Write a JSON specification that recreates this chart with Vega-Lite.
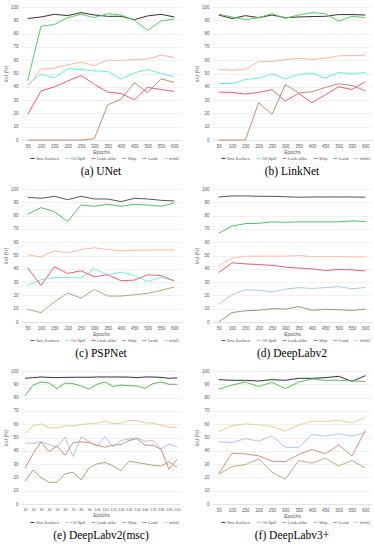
{
  "$schema": "https://vega.github.io/schema/vega-lite/v6.json",
  "padding": {"left": 3, "top": 4, "right": 2, "bottom": 0},
  "background": "white",
  "config": {
    "view": {"stroke": null},
    "font": "Liberation Sans",
    "axis": {"labelFontSize": 4.5, "titleFontSize": 5, "titleFontWeight": "normal", "labelColor": "#595959", "titleColor": "#595959", "ticks": false, "labelPadding": 3, "titlePadding": 2},
    "axisY": {"domain": false, "grid": true, "gridColor": "#e3e3e3", "gridWidth": 0.5},
    "axisX": {"grid": false, "domainColor": "#d9d9d9", "domainWidth": 0.5, "labelAngle": 0},
    "legend": {"orient": "none", "legendX": 9, "legendY": 149, "direction": "horizontal", "gridAlign": "none", "title": null, "labelFontSize": 4.2, "labelColor": "#595959", "symbolType": "stroke", "symbolSize": 16, "symbolStrokeWidth": 1, "columnPadding": 3, "labelOffset": 1, "padding": 0},
    "title": {"font": "Liberation Serif", "fontSize": 11.5, "fontWeight": "normal", "color": "#000000", "orient": "bottom", "offset": 5},
    "line": {"strokeWidth": 1}
  },
  "datasets": {
    "a": [
      {"e":50,"s":"Sea Surface","v":91.3},{"e":100,"s":"Sea Surface","v":92.5},{"e":150,"s":"Sea Surface","v":94.5},{"e":200,"s":"Sea Surface","v":93.5},{"e":250,"s":"Sea Surface","v":95.8},{"e":300,"s":"Sea Surface","v":94},{"e":350,"s":"Sea Surface","v":93},{"e":400,"s":"Sea Surface","v":93},{"e":450,"s":"Sea Surface","v":90.5},{"e":500,"s":"Sea Surface","v":93.3},{"e":550,"s":"Sea Surface","v":94.5},{"e":600,"s":"Sea Surface","v":92.5},
      {"e":50,"s":"Oil Spill","v":42},{"e":100,"s":"Oil Spill","v":49.3},{"e":150,"s":"Oil Spill","v":46.8},{"e":200,"s":"Oil Spill","v":53.5},{"e":250,"s":"Oil Spill","v":53},{"e":300,"s":"Oil Spill","v":52},{"e":350,"s":"Oil Spill","v":51.5},{"e":400,"s":"Oil Spill","v":45.8},{"e":450,"s":"Oil Spill","v":50.5},{"e":500,"s":"Oil Spill","v":53},{"e":550,"s":"Oil Spill","v":50},{"e":600,"s":"Oil Spill","v":47.5},
      {"e":50,"s":"Look-alike","v":19.3},{"e":100,"s":"Look-alike","v":36.8},{"e":150,"s":"Look-alike","v":40},{"e":200,"s":"Look-alike","v":44.3},{"e":250,"s":"Look-alike","v":48.5},{"e":300,"s":"Look-alike","v":41.8},{"e":350,"s":"Look-alike","v":36},{"e":400,"s":"Look-alike","v":35},{"e":450,"s":"Look-alike","v":30.3},{"e":500,"s":"Look-alike","v":39.5},{"e":550,"s":"Look-alike","v":38},{"e":600,"s":"Look-alike","v":36.5},
      {"e":50,"s":"Ship","v":0},{"e":100,"s":"Ship","v":0},{"e":150,"s":"Ship","v":0},{"e":200,"s":"Ship","v":0},{"e":250,"s":"Ship","v":0},{"e":300,"s":"Ship","v":1},{"e":350,"s":"Ship","v":26.3},{"e":400,"s":"Ship","v":30.8},{"e":450,"s":"Ship","v":43},{"e":500,"s":"Ship","v":35.8},{"e":550,"s":"Ship","v":46},{"e":600,"s":"Ship","v":43.3},
      {"e":50,"s":"Land","v":44.5},{"e":100,"s":"Land","v":85.5},{"e":150,"s":"Land","v":86.8},{"e":200,"s":"Land","v":92},{"e":250,"s":"Land","v":94.5},{"e":300,"s":"Land","v":92},{"e":350,"s":"Land","v":95},{"e":400,"s":"Land","v":94},{"e":450,"s":"Land","v":90},{"e":500,"s":"Land","v":82.5},{"e":550,"s":"Land","v":89.5},{"e":600,"s":"Land","v":91},
      {"e":50,"s":"mIoU","v":40},{"e":100,"s":"mIoU","v":53},{"e":150,"s":"mIoU","v":54},{"e":200,"s":"mIoU","v":56.5},{"e":250,"s":"mIoU","v":58.5},{"e":300,"s":"mIoU","v":56},{"e":350,"s":"mIoU","v":60},{"e":400,"s":"mIoU","v":59.8},{"e":450,"s":"mIoU","v":60.5},{"e":500,"s":"mIoU","v":61},{"e":550,"s":"mIoU","v":63.8},{"e":600,"s":"mIoU","v":62}
    ],
    "b": [
      {"e":50,"s":"Sea Surface","v":94},{"e":100,"s":"Sea Surface","v":91.3},{"e":150,"s":"Sea Surface","v":93.5},{"e":200,"s":"Sea Surface","v":92},{"e":250,"s":"Sea Surface","v":94},{"e":300,"s":"Sea Surface","v":92},{"e":350,"s":"Sea Surface","v":92.5},{"e":400,"s":"Sea Surface","v":92.8},{"e":450,"s":"Sea Surface","v":93},{"e":500,"s":"Sea Surface","v":94.3},{"e":550,"s":"Sea Surface","v":94.3},{"e":600,"s":"Sea Surface","v":94},
      {"e":50,"s":"Oil Spill","v":42.5},{"e":100,"s":"Oil Spill","v":42.5},{"e":150,"s":"Oil Spill","v":45.5},{"e":200,"s":"Oil Spill","v":46.5},{"e":250,"s":"Oil Spill","v":49.8},{"e":300,"s":"Oil Spill","v":46},{"e":350,"s":"Oil Spill","v":49.3},{"e":400,"s":"Oil Spill","v":50.3},{"e":450,"s":"Oil Spill","v":46.5},{"e":500,"s":"Oil Spill","v":50.8},{"e":550,"s":"Oil Spill","v":49.8},{"e":600,"s":"Oil Spill","v":50.8},
      {"e":50,"s":"Look-alike","v":36},{"e":100,"s":"Look-alike","v":35.8},{"e":150,"s":"Look-alike","v":34.5},{"e":200,"s":"Look-alike","v":35.8},{"e":250,"s":"Look-alike","v":37.8},{"e":300,"s":"Look-alike","v":29.3},{"e":350,"s":"Look-alike","v":35},{"e":400,"s":"Look-alike","v":28},{"e":450,"s":"Look-alike","v":34},{"e":500,"s":"Look-alike","v":40},{"e":550,"s":"Look-alike","v":38},{"e":600,"s":"Look-alike","v":43.8},
      {"e":50,"s":"Ship","v":0},{"e":100,"s":"Ship","v":0},{"e":150,"s":"Ship","v":0},{"e":200,"s":"Ship","v":28},{"e":250,"s":"Ship","v":19.3},{"e":300,"s":"Ship","v":41.8},{"e":350,"s":"Ship","v":35.3},{"e":400,"s":"Ship","v":36.3},{"e":450,"s":"Ship","v":39.5},{"e":500,"s":"Ship","v":42.3},{"e":550,"s":"Ship","v":41},{"e":600,"s":"Ship","v":37},
      {"e":50,"s":"Land","v":94.5},{"e":100,"s":"Land","v":92.5},{"e":150,"s":"Land","v":90.5},{"e":200,"s":"Land","v":92},{"e":250,"s":"Land","v":95},{"e":300,"s":"Land","v":91.5},{"e":350,"s":"Land","v":94},{"e":400,"s":"Land","v":95.8},{"e":450,"s":"Land","v":95},{"e":500,"s":"Land","v":89.3},{"e":550,"s":"Land","v":93},{"e":600,"s":"Land","v":92},
      {"e":50,"s":"mIoU","v":53},{"e":100,"s":"mIoU","v":52.5},{"e":150,"s":"mIoU","v":53},{"e":200,"s":"mIoU","v":59},{"e":250,"s":"mIoU","v":59},{"e":300,"s":"mIoU","v":60.5},{"e":350,"s":"mIoU","v":61.3},{"e":400,"s":"mIoU","v":60.5},{"e":450,"s":"mIoU","v":61.5},{"e":500,"s":"mIoU","v":63.3},{"e":550,"s":"mIoU","v":63.5},{"e":600,"s":"mIoU","v":63.8}
    ],
    "c": [
      {"e":50,"s":"Sea Surface","v":93.8},{"e":100,"s":"Sea Surface","v":93},{"e":150,"s":"Sea Surface","v":94.5},{"e":200,"s":"Sea Surface","v":92},{"e":250,"s":"Sea Surface","v":94.5},{"e":300,"s":"Sea Surface","v":92.5},{"e":350,"s":"Sea Surface","v":92.5},{"e":400,"s":"Sea Surface","v":90.5},{"e":450,"s":"Sea Surface","v":93},{"e":500,"s":"Sea Surface","v":92.5},{"e":550,"s":"Sea Surface","v":91.5},{"e":600,"s":"Sea Surface","v":91},
      {"e":50,"s":"Oil Spill","v":27.5},{"e":100,"s":"Oil Spill","v":31.8},{"e":150,"s":"Oil Spill","v":33.5},{"e":200,"s":"Oil Spill","v":33.5},{"e":250,"s":"Oil Spill","v":33},{"e":300,"s":"Oil Spill","v":40},{"e":350,"s":"Oil Spill","v":35.5},{"e":400,"s":"Oil Spill","v":37.5},{"e":450,"s":"Oil Spill","v":35},{"e":500,"s":"Oil Spill","v":30.5},{"e":550,"s":"Oil Spill","v":33.5},{"e":600,"s":"Oil Spill","v":31},
      {"e":50,"s":"Look-alike","v":40.8},{"e":100,"s":"Look-alike","v":27.5},{"e":150,"s":"Look-alike","v":41.5},{"e":200,"s":"Look-alike","v":36.5},{"e":250,"s":"Look-alike","v":38.5},{"e":300,"s":"Look-alike","v":34},{"e":350,"s":"Look-alike","v":35.5},{"e":400,"s":"Look-alike","v":31},{"e":450,"s":"Look-alike","v":31.5},{"e":500,"s":"Look-alike","v":35.5},{"e":550,"s":"Look-alike","v":35},{"e":600,"s":"Look-alike","v":31},
      {"e":50,"s":"Ship","v":9.5},{"e":100,"s":"Ship","v":7},{"e":150,"s":"Ship","v":15},{"e":200,"s":"Ship","v":21.8},{"e":250,"s":"Ship","v":18},{"e":300,"s":"Ship","v":24.5},{"e":350,"s":"Ship","v":19.5},{"e":400,"s":"Ship","v":19.5},{"e":450,"s":"Ship","v":20.5},{"e":500,"s":"Ship","v":21.5},{"e":550,"s":"Ship","v":23.8},{"e":600,"s":"Ship","v":26.3},
      {"e":50,"s":"Land","v":81},{"e":100,"s":"Land","v":86},{"e":150,"s":"Land","v":83},{"e":200,"s":"Land","v":75.5},{"e":250,"s":"Land","v":88},{"e":300,"s":"Land","v":87},{"e":350,"s":"Land","v":88.5},{"e":400,"s":"Land","v":87},{"e":450,"s":"Land","v":88.5},{"e":500,"s":"Land","v":88},{"e":550,"s":"Land","v":87},{"e":600,"s":"Land","v":89.5},
      {"e":50,"s":"mIoU","v":50.5},{"e":100,"s":"mIoU","v":49},{"e":150,"s":"mIoU","v":53.5},{"e":200,"s":"mIoU","v":52},{"e":250,"s":"mIoU","v":54.5},{"e":300,"s":"mIoU","v":55.8},{"e":350,"s":"mIoU","v":54.5},{"e":400,"s":"mIoU","v":53.5},{"e":450,"s":"mIoU","v":54},{"e":500,"s":"mIoU","v":54},{"e":550,"s":"mIoU","v":54.3},{"e":600,"s":"mIoU","v":54}
    ],
    "d": [
      {"e":50,"s":"Sea Surface","v":94},{"e":100,"s":"Sea Surface","v":94.8},{"e":150,"s":"Sea Surface","v":94.8},{"e":200,"s":"Sea Surface","v":94.5},{"e":250,"s":"Sea Surface","v":94.5},{"e":300,"s":"Sea Surface","v":94.2},{"e":350,"s":"Sea Surface","v":93.8},{"e":400,"s":"Sea Surface","v":94},{"e":450,"s":"Sea Surface","v":94},{"e":500,"s":"Sea Surface","v":94},{"e":550,"s":"Sea Surface","v":94},{"e":600,"s":"Sea Surface","v":93.8},
      {"e":50,"s":"Oil Spill","v":13.2},{"e":100,"s":"Oil Spill","v":20.5},{"e":150,"s":"Oil Spill","v":24.2},{"e":200,"s":"Oil Spill","v":23.9},{"e":250,"s":"Oil Spill","v":22.6},{"e":300,"s":"Oil Spill","v":24.7},{"e":350,"s":"Oil Spill","v":25.8},{"e":400,"s":"Oil Spill","v":25.3},{"e":450,"s":"Oil Spill","v":25.8},{"e":500,"s":"Oil Spill","v":26.6},{"e":550,"s":"Oil Spill","v":25},{"e":600,"s":"Oil Spill","v":26},
      {"e":50,"s":"Look-alike","v":37.1},{"e":100,"s":"Look-alike","v":44.5},{"e":150,"s":"Look-alike","v":43.7},{"e":200,"s":"Look-alike","v":43.2},{"e":250,"s":"Look-alike","v":42.6},{"e":300,"s":"Look-alike","v":41.3},{"e":350,"s":"Look-alike","v":40.5},{"e":400,"s":"Look-alike","v":40},{"e":450,"s":"Look-alike","v":38.7},{"e":500,"s":"Look-alike","v":39.5},{"e":550,"s":"Look-alike","v":39.2},{"e":600,"s":"Look-alike","v":38.4},
      {"e":50,"s":"Ship","v":0},{"e":100,"s":"Ship","v":7.1},{"e":150,"s":"Ship","v":8.4},{"e":200,"s":"Ship","v":8.9},{"e":250,"s":"Ship","v":10},{"e":300,"s":"Ship","v":9.7},{"e":350,"s":"Ship","v":11.6},{"e":400,"s":"Ship","v":8.9},{"e":450,"s":"Ship","v":9.5},{"e":500,"s":"Ship","v":9.2},{"e":550,"s":"Ship","v":8.7},{"e":600,"s":"Ship","v":9.7},
      {"e":50,"s":"Land","v":66.8},{"e":100,"s":"Land","v":72.1},{"e":150,"s":"Land","v":74},{"e":200,"s":"Land","v":74.2},{"e":250,"s":"Land","v":75.3},{"e":300,"s":"Land","v":75},{"e":350,"s":"Land","v":75.3},{"e":400,"s":"Land","v":75.3},{"e":450,"s":"Land","v":75.3},{"e":500,"s":"Land","v":75.3},{"e":550,"s":"Land","v":76},{"e":600,"s":"Land","v":75.5},
      {"e":50,"s":"mIoU","v":42.6},{"e":100,"s":"mIoU","v":47.9},{"e":150,"s":"mIoU","v":49.5},{"e":200,"s":"mIoU","v":49.5},{"e":250,"s":"mIoU","v":49.5},{"e":300,"s":"mIoU","v":49.5},{"e":350,"s":"mIoU","v":50},{"e":400,"s":"mIoU","v":49.2},{"e":450,"s":"mIoU","v":49.2},{"e":500,"s":"mIoU","v":49.2},{"e":550,"s":"mIoU","v":48.9},{"e":600,"s":"mIoU","v":48.9}
    ],
    "e": [
      {"e":10,"s":"Sea Surface","v":94.5},{"e":20,"s":"Sea Surface","v":95},{"e":30,"s":"Sea Surface","v":95.5},{"e":40,"s":"Sea Surface","v":95.2},{"e":50,"s":"Sea Surface","v":95},{"e":60,"s":"Sea Surface","v":95.2},{"e":70,"s":"Sea Surface","v":95.3},{"e":80,"s":"Sea Surface","v":95.3},{"e":90,"s":"Sea Surface","v":95.3},{"e":100,"s":"Sea Surface","v":95.5},{"e":110,"s":"Sea Surface","v":95.5},{"e":120,"s":"Sea Surface","v":95.5},{"e":130,"s":"Sea Surface","v":95.5},{"e":140,"s":"Sea Surface","v":95.4},{"e":150,"s":"Sea Surface","v":95},{"e":160,"s":"Sea Surface","v":95.5},{"e":170,"s":"Sea Surface","v":95.5},{"e":180,"s":"Sea Surface","v":95.2},{"e":190,"s":"Sea Surface","v":94.5},{"e":200,"s":"Sea Surface","v":94.8},
      {"e":10,"s":"Oil Spill","v":45.7},{"e":20,"s":"Oil Spill","v":45.7},{"e":30,"s":"Oil Spill","v":46.7},{"e":40,"s":"Oil Spill","v":44.7},{"e":50,"s":"Oil Spill","v":42.7},{"e":60,"s":"Oil Spill","v":50.3},{"e":70,"s":"Oil Spill","v":35.7},{"e":80,"s":"Oil Spill","v":50.3},{"e":90,"s":"Oil Spill","v":47.2},{"e":100,"s":"Oil Spill","v":43.2},{"e":110,"s":"Oil Spill","v":50.8},{"e":120,"s":"Oil Spill","v":42.7},{"e":130,"s":"Oil Spill","v":47.7},{"e":140,"s":"Oil Spill","v":49},{"e":150,"s":"Oil Spill","v":49.7},{"e":160,"s":"Oil Spill","v":47.2},{"e":170,"s":"Oil Spill","v":47.7},{"e":180,"s":"Oil Spill","v":41.5},{"e":190,"s":"Oil Spill","v":45.2},{"e":200,"s":"Oil Spill","v":42.7},
      {"e":10,"s":"Look-alike","v":26.9},{"e":20,"s":"Look-alike","v":37.7},{"e":30,"s":"Look-alike","v":46.7},{"e":40,"s":"Look-alike","v":39.4},{"e":50,"s":"Look-alike","v":43.7},{"e":60,"s":"Look-alike","v":36.7},{"e":70,"s":"Look-alike","v":46},{"e":80,"s":"Look-alike","v":46.7},{"e":90,"s":"Look-alike","v":46.2},{"e":100,"s":"Look-alike","v":44.2},{"e":110,"s":"Look-alike","v":42.7},{"e":120,"s":"Look-alike","v":44.2},{"e":130,"s":"Look-alike","v":44.7},{"e":140,"s":"Look-alike","v":47.7},{"e":150,"s":"Look-alike","v":49.2},{"e":160,"s":"Look-alike","v":44.2},{"e":170,"s":"Look-alike","v":44.2},{"e":180,"s":"Look-alike","v":41.2},{"e":190,"s":"Look-alike","v":26.1},{"e":200,"s":"Look-alike","v":33.7},
      {"e":10,"s":"Ship","v":17},{"e":20,"s":"Ship","v":25.6},{"e":30,"s":"Ship","v":20},{"e":40,"s":"Ship","v":16.3},{"e":50,"s":"Ship","v":16.3},{"e":60,"s":"Ship","v":22.6},{"e":70,"s":"Ship","v":23.9},{"e":80,"s":"Ship","v":18.1},{"e":90,"s":"Ship","v":27.1},{"e":100,"s":"Ship","v":30.2},{"e":110,"s":"Ship","v":31.2},{"e":120,"s":"Ship","v":28.6},{"e":130,"s":"Ship","v":25.1},{"e":140,"s":"Ship","v":32.2},{"e":150,"s":"Ship","v":31.2},{"e":160,"s":"Ship","v":30.2},{"e":170,"s":"Ship","v":29.1},{"e":180,"s":"Ship","v":28.6},{"e":190,"s":"Ship","v":31.7},{"e":200,"s":"Ship","v":27.6},
      {"e":10,"s":"Land","v":81.4},{"e":20,"s":"Land","v":89.4},{"e":30,"s":"Land","v":91.7},{"e":40,"s":"Land","v":91},{"e":50,"s":"Land","v":86.7},{"e":60,"s":"Land","v":91},{"e":70,"s":"Land","v":90.5},{"e":80,"s":"Land","v":88.7},{"e":90,"s":"Land","v":86.4},{"e":100,"s":"Land","v":90},{"e":110,"s":"Land","v":91.7},{"e":120,"s":"Land","v":88.4},{"e":130,"s":"Land","v":89.4},{"e":140,"s":"Land","v":89},{"e":150,"s":"Land","v":88.7},{"e":160,"s":"Land","v":86.9},{"e":170,"s":"Land","v":90.5},{"e":180,"s":"Land","v":91.7},{"e":190,"s":"Land","v":90},{"e":200,"s":"Land","v":90},
      {"e":10,"s":"mIoU","v":53.3},{"e":20,"s":"mIoU","v":58.8},{"e":30,"s":"mIoU","v":60.3},{"e":40,"s":"mIoU","v":57.3},{"e":50,"s":"mIoU","v":57.3},{"e":60,"s":"mIoU","v":58.8},{"e":70,"s":"mIoU","v":58.5},{"e":80,"s":"mIoU","v":59.8},{"e":90,"s":"mIoU","v":60.3},{"e":100,"s":"mIoU","v":60.8},{"e":110,"s":"mIoU","v":62.3},{"e":120,"s":"mIoU","v":60.3},{"e":130,"s":"mIoU","v":60.8},{"e":140,"s":"mIoU","v":62.8},{"e":150,"s":"mIoU","v":62.8},{"e":160,"s":"mIoU","v":61},{"e":170,"s":"mIoU","v":60.8},{"e":180,"s":"mIoU","v":59.3},{"e":190,"s":"mIoU","v":57.8},{"e":200,"s":"mIoU","v":57.5}
    ],
    "f": [
      {"e":50,"s":"Sea Surface","v":93.5},{"e":100,"s":"Sea Surface","v":93},{"e":150,"s":"Sea Surface","v":93},{"e":200,"s":"Sea Surface","v":92.5},{"e":250,"s":"Sea Surface","v":93.5},{"e":300,"s":"Sea Surface","v":93},{"e":350,"s":"Sea Surface","v":94.5},{"e":400,"s":"Sea Surface","v":94.5},{"e":450,"s":"Sea Surface","v":95},{"e":500,"s":"Sea Surface","v":96},{"e":550,"s":"Sea Surface","v":92.2},{"e":600,"s":"Sea Surface","v":96.5},
      {"e":50,"s":"Oil Spill","v":46.7},{"e":100,"s":"Oil Spill","v":46.2},{"e":150,"s":"Oil Spill","v":49.2},{"e":200,"s":"Oil Spill","v":47.2},{"e":250,"s":"Oil Spill","v":51.3},{"e":300,"s":"Oil Spill","v":42.7},{"e":350,"s":"Oil Spill","v":42.5},{"e":400,"s":"Oil Spill","v":52.3},{"e":450,"s":"Oil Spill","v":51},{"e":500,"s":"Oil Spill","v":52.8},{"e":550,"s":"Oil Spill","v":51},{"e":600,"s":"Oil Spill","v":53.8},
      {"e":50,"s":"Look-alike","v":22.9},{"e":100,"s":"Look-alike","v":38.2},{"e":150,"s":"Look-alike","v":37.7},{"e":200,"s":"Look-alike","v":36.2},{"e":250,"s":"Look-alike","v":32.2},{"e":300,"s":"Look-alike","v":31.9},{"e":350,"s":"Look-alike","v":37.2},{"e":400,"s":"Look-alike","v":41},{"e":450,"s":"Look-alike","v":37.7},{"e":500,"s":"Look-alike","v":44.5},{"e":550,"s":"Look-alike","v":36.2},{"e":600,"s":"Look-alike","v":55.3},
      {"e":50,"s":"Ship","v":22.4},{"e":100,"s":"Ship","v":28.1},{"e":150,"s":"Ship","v":29.6},{"e":200,"s":"Ship","v":33.9},{"e":250,"s":"Ship","v":23.9},{"e":300,"s":"Ship","v":18.6},{"e":350,"s":"Ship","v":32.7},{"e":400,"s":"Ship","v":30.7},{"e":450,"s":"Ship","v":34.4},{"e":500,"s":"Ship","v":28.6},{"e":550,"s":"Ship","v":32.7},{"e":600,"s":"Ship","v":27.1},
      {"e":50,"s":"Land","v":86.4},{"e":100,"s":"Land","v":89.4},{"e":150,"s":"Land","v":91.7},{"e":200,"s":"Land","v":88.4},{"e":250,"s":"Land","v":91.5},{"e":300,"s":"Land","v":86.7},{"e":350,"s":"Land","v":91.7},{"e":400,"s":"Land","v":94},{"e":450,"s":"Land","v":93},{"e":500,"s":"Land","v":93},{"e":550,"s":"Land","v":92.5},{"e":600,"s":"Land","v":92.2},
      {"e":50,"s":"mIoU","v":54.3},{"e":100,"s":"mIoU","v":58.8},{"e":150,"s":"mIoU","v":60.3},{"e":200,"s":"mIoU","v":59.5},{"e":250,"s":"mIoU","v":58.3},{"e":300,"s":"mIoU","v":54.8},{"e":350,"s":"mIoU","v":59.3},{"e":400,"s":"mIoU","v":62.3},{"e":450,"s":"mIoU","v":62.1},{"e":500,"s":"mIoU","v":63},{"e":550,"s":"mIoU","v":61},{"e":600,"s":"mIoU","v":65}
    ]
  },
  "resolve": {"scale": {"color": "independent", "x": "independent"}, "legend": {"color": "independent"}},
  "spacing": 8,
  "vconcat": [
    {
      "spacing": 13,
      "resolve": {"scale": {"color": "independent", "x": "independent"}, "legend": {"color": "independent"}},
      "hconcat": [
        {
          "width": 160, "height": 133,
          "data": {"name": "a"},
          "title": {"text": "(a) UNet"},
          "mark": "line",
          "encoding": {
            "x": {"field": "e", "type": "ordinal", "title": "Epochs"},
            "y": {"field": "v", "type": "quantitative", "title": "IoU (%)", "scale": {"domain": [0, 100]}, "axis": {"values": [0,10,20,30,40,50,60,70,80,90,100]}},
            "color": {"field": "s", "type": "nominal", "sort": null, "scale": {"domain": ["Sea Surface","Oil Spill","Look-alike","Ship","Land","mIoU"], "range": ["#333333","#5ff2e6","#f25c74","#c08e70","#55cc5f","#ffb59c"]}}
          }
        },
        {
          "width": 160, "height": 133,
          "data": {"name": "b"},
          "title": {"text": "(b) LinkNet"},
          "mark": "line",
          "encoding": {
            "x": {"field": "e", "type": "ordinal", "title": "Epochs"},
            "y": {"field": "v", "type": "quantitative", "title": "IoU (%)", "scale": {"domain": [0, 100]}, "axis": {"values": [0,10,20,30,40,50,60,70,80,90,100]}},
            "color": {"field": "s", "type": "nominal", "sort": null, "scale": {"domain": ["Sea Surface","Oil Spill","Look-alike","Ship","Land","mIoU"], "range": ["#333333","#5ff2e6","#f25c74","#c08e70","#55cc5f","#ffb59c"]}}
          }
        }
      ]
    },
    {
      "spacing": 13,
      "resolve": {"scale": {"color": "independent", "x": "independent"}, "legend": {"color": "independent"}},
      "hconcat": [
        {
          "width": 160, "height": 133,
          "data": {"name": "c"},
          "title": {"text": "(c) PSPNet"},
          "mark": "line",
          "encoding": {
            "x": {"field": "e", "type": "ordinal", "title": "Epochs"},
            "y": {"field": "v", "type": "quantitative", "title": "IoU (%)", "scale": {"domain": [0, 100]}, "axis": {"values": [0,10,20,30,40,50,60,70,80,90,100]}},
            "color": {"field": "s", "type": "nominal", "sort": null, "scale": {"domain": ["Sea Surface","Oil Spill","Look-alike","Ship","Land","mIoU"], "range": ["#555555","#6ff0e8","#f06070","#b5a57a","#4fc35a","#ffb8a0"]}}
          }
        },
        {
          "width": 160, "height": 133,
          "data": {"name": "d"},
          "title": {"text": "(d) DeepLabv2"},
          "mark": "line",
          "encoding": {
            "x": {"field": "e", "type": "ordinal", "title": "Epochs"},
            "y": {"field": "v", "type": "quantitative", "title": "IoU (%)", "scale": {"domain": [0, 100]}, "axis": {"values": [0,10,20,30,40,50,60,70,80,90,100]}},
            "color": {"field": "s", "type": "nominal", "sort": null, "scale": {"domain": ["Sea Surface","Oil Spill","Look-alike","Ship","Land","mIoU"], "range": ["#555555","#a8c8ee","#f05a70","#a8906a","#4fc35a","#ffc0a8"]}}
          }
        }
      ]
    },
    {
      "spacing": 13,
      "resolve": {"scale": {"color": "independent", "x": "independent"}, "legend": {"color": "independent"}},
      "hconcat": [
        {
          "width": 160, "height": 133,
          "data": {"name": "e"},
          "title": {"text": "(e) DeepLabv2(msc)"},
          "mark": "line",
          "encoding": {
            "x": {"field": "e", "type": "ordinal", "title": "Epochs", "axis": {"labelFontSize": 3.8}},
            "y": {"field": "v", "type": "quantitative", "title": "IoU (%)", "scale": {"domain": [0, 100]}, "axis": {"values": [0,10,20,30,40,50,60,70,80,90,100]}},
            "color": {"field": "s", "type": "nominal", "sort": null, "scale": {"domain": ["Sea Surface","Oil Spill","Look-alike","Ship","Land","mIoU"], "range": ["#333333","#a8c8f0","#c8907a","#b0a27a","#5cb85c","#e8cc8c"]}}
          }
        },
        {
          "width": 160, "height": 133,
          "data": {"name": "f"},
          "title": {"text": "(f) DeepLabv3+"},
          "mark": "line",
          "encoding": {
            "x": {"field": "e", "type": "ordinal", "title": "Epochs"},
            "y": {"field": "v", "type": "quantitative", "title": "IoU (%)", "scale": {"domain": [0, 100]}, "axis": {"values": [0,10,20,30,40,50,60,70,80,90,100]}},
            "color": {"field": "s", "type": "nominal", "sort": null, "scale": {"domain": ["Sea Surface","Oil Spill","Look-alike","Ship","Land","mIoU"], "range": ["#333333","#a8c8f0","#d0907a","#c0aa80","#5cbf5c","#ecd090"]}}
          }
        }
      ]
    }
  ]
}
